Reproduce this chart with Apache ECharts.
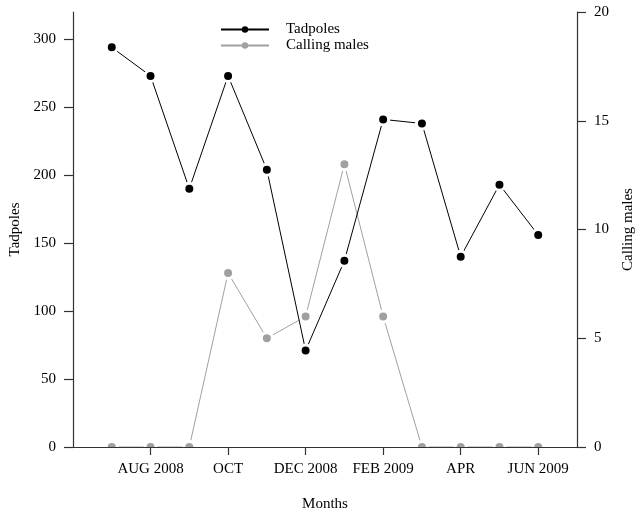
<!DOCTYPE html>
<html>
<head>
<meta charset="utf-8">
<script src="https://cdn.jsdelivr.net/npm/echarts@6/dist/echarts.min.js"></script>
<style>html,body{margin:0;padding:0;background:#fff}#c{width:643px;height:515px}</style>
</head>
<body>
<div id="c"></div>
<script>
var months = ["JUL 2008","AUG 2008","SEP","OCT","NOV","DEC 2008","JAN 2009","FEB 2009","MAR","APR","MAY","JUN 2009"];
var monthPos = [1,2,3,4,5,6,7,8,9,10,11,12];
var tadpoles = [294,273,190,273,204,71,137,241,238,140,193,156];
var callingMales = [0,0,0,8,5,6,13,6,0,0,0,0];
var xTickPos = [2,4,6,8,10,12];
var leftTicks = [0,50,100,150,200,250,300];
var rightTicks = [0,5,10,15,20];

var FONT = "Liberation Serif";
function pairs(vals){ return vals.map(function(v,i){ return [monthPos[i], v]; }); }

var chart = echarts.init(document.getElementById('c'));
chart.setOption({
  animation: false,
  backgroundColor: '#fff',
  textStyle: { fontFamily: FONT },
  grid: { left: 73, right: 66, top: 12, bottom: 68, outerBoundsMode: 'none', containLabel: false },
  legend: {
    orient: 'vertical', left: 215, top: 17,
    itemWidth: 48, itemHeight: 8, itemGap: 1,
    textStyle: { fontFamily: FONT, fontSize: 15, color: '#000', padding: [0,0,0,12] },
    data: [
      { name: 'Tadpoles', itemStyle: { borderWidth: 0 } },
      { name: 'Calling males', itemStyle: { borderWidth: 0 } }
    ]
  },
  xAxis: {
    type: 'value', min: 0, max: 13, z: 5,
    name: 'Months', nameLocation: 'middle', nameGap: 50,
    nameTextStyle: { fontFamily: FONT, fontSize: 15, color: '#000' },
    axisLine: { show: true, lineStyle: { color: '#333', width: 1.2 } },
    axisTick: { show: true, length: 8, customValues: xTickPos, lineStyle: { color: '#333', width: 1.2 } },
    axisLabel: { customValues: xTickPos, margin: 15, fontFamily: FONT, fontSize: 15, color: '#000',
      formatter: function(v){ return months[v-1]; } },
    splitLine: { show: false }
  },
  yAxis: [{
    type: 'value', min: 0, max: 320, position: 'left', z: 5,
    name: 'Tadpoles', nameLocation: 'middle', nameGap: 37, nameRotate: 90,
    nameTextStyle: { fontFamily: FONT, fontSize: 15, color: '#000' },
    axisLine: { show: true, lineStyle: { color: '#333', width: 1.2 } },
    axisTick: { show: true, length: 9, customValues: leftTicks, lineStyle: { color: '#333', width: 1.2 } },
    axisLabel: { customValues: leftTicks, margin: 17, fontFamily: FONT, fontSize: 15, color: '#000' },
    splitLine: { show: false }
  },{
    type: 'value', min: 0, max: 20, position: 'right', z: 5,
    name: 'Calling males', nameLocation: 'middle', nameGap: 44, nameRotate: 90,
    nameTextStyle: { fontFamily: FONT, fontSize: 15, color: '#000' },
    axisLine: { show: true, lineStyle: { color: '#333', width: 1.2 } },
    axisTick: { show: true, length: 9, customValues: rightTicks, lineStyle: { color: '#333', width: 1.2 } },
    axisLabel: { customValues: rightTicks, margin: 17, fontFamily: FONT, fontSize: 15, color: '#000' },
    splitLine: { show: false }
  }],
  graphic: [{
    type: 'rect', z: 3, silent: true,
    shape: { x: 74, y: 448, width: 502, height: 10 },
    style: { fill: '#fff' }
  }],
  series: [{
    name: 'Tadpoles', type: 'line', yAxisIndex: 0, z: 2,
    data: pairs(tadpoles),
    symbol: 'circle', symbolSize: 11,
    lineStyle: { color: '#000', width: 1 },
    itemStyle: { color: '#000', borderColor: '#fff', borderWidth: 3 }
  },{
    name: 'Calling males', type: 'line', yAxisIndex: 1, z: 1,
    data: pairs(callingMales),
    symbol: 'circle', symbolSize: 11,
    lineStyle: { color: '#a0a0a0', width: 1 },
    itemStyle: { color: '#a0a0a0', borderColor: '#fff', borderWidth: 3 }
  }]
});
</script>
</body>
</html>
